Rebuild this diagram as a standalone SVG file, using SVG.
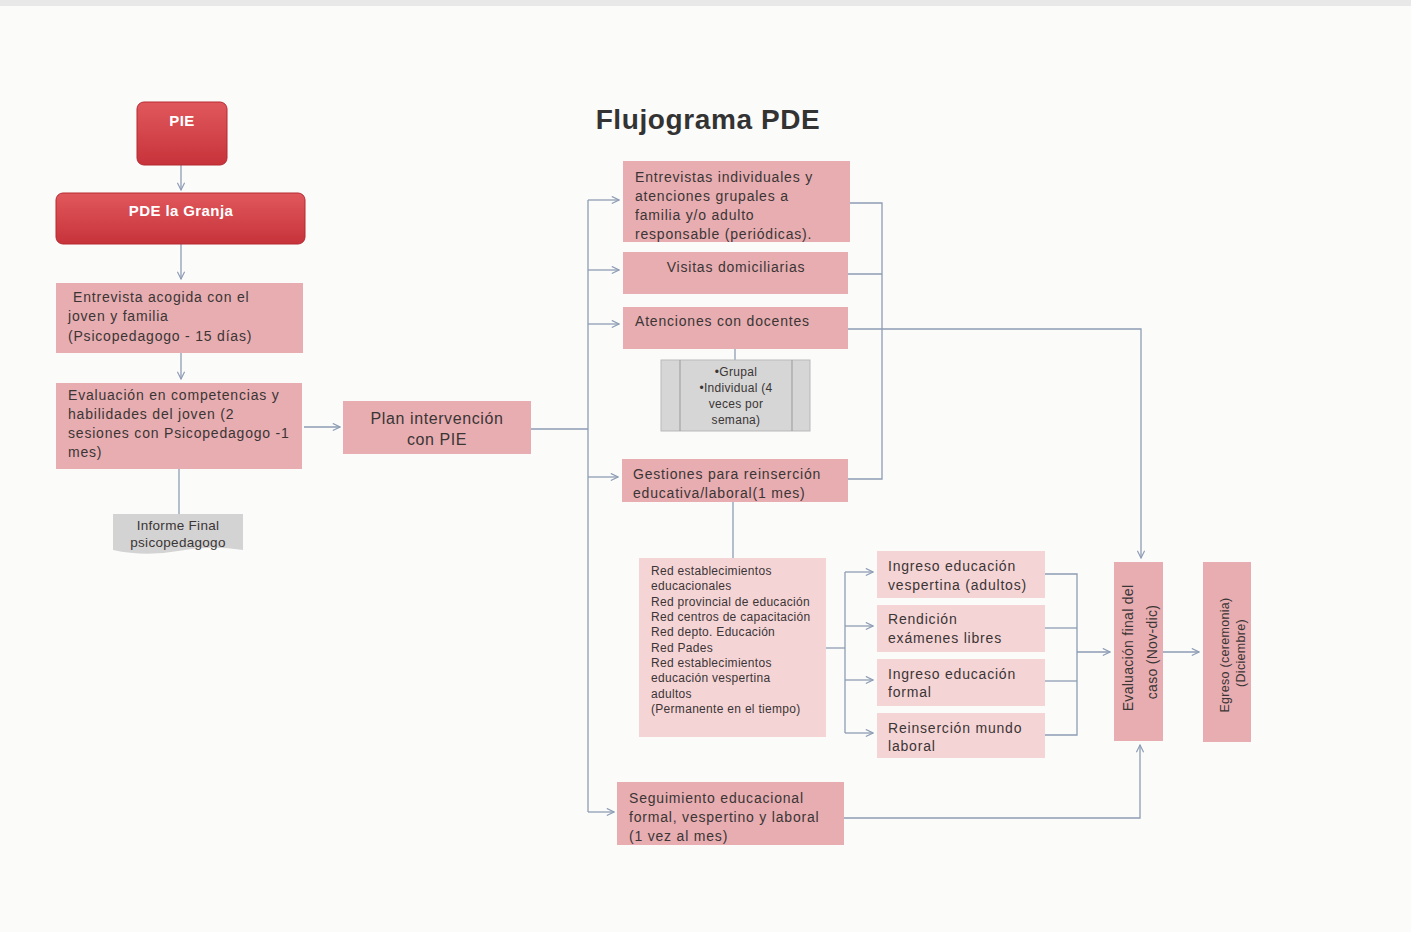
<svg xmlns="http://www.w3.org/2000/svg" width="1411" height="932" viewBox="0 0 1411 932">
<defs>
<style>
text{font-family:"Liberation Sans","Open Sans",sans-serif;fill:#3b3535;font-size:14px;letter-spacing:0.8px}
.w{fill:#fff;font-weight:bold;font-size:15px;letter-spacing:0.4px}
.c{text-anchor:middle}
.s{font-size:12px;letter-spacing:0.3px}
.i{font-size:13.5px;letter-spacing:0.3px}
.v{font-size:12.5px;letter-spacing:0.3px}
.pk{fill:#e7adb1}
.lp{fill:#f5d4d6}
.ln{fill:none;stroke:#8d9cb4;stroke-width:1.3}
</style>
<linearGradient id="rg" x1="0" y1="0" x2="0" y2="1">
<stop offset="0" stop-color="#e0585c"/><stop offset="1" stop-color="#c7333a"/>
</linearGradient>
<marker id="a" viewBox="0 0 10 10" refX="9" refY="5" markerWidth="9" markerHeight="9" orient="auto" markerUnits="userSpaceOnUse">
<path d="M1,1 L9,5 L1,9" fill="none" stroke="#8d9cb4" stroke-width="1.3"/>
</marker>
</defs>
<rect width="1411" height="932" fill="#fbfbfa"/>
<rect x="0" y="0" width="1411" height="6" fill="#e8e8e8"/>
<text x="708" y="129" class="c" style="font-size:28px;font-weight:bold;fill:#333;letter-spacing:0.6px">Flujograma PDE</text>

<g id="connectors">
<path class="ln" d="M181,165 V190" marker-end="url(#a)"/>
<path class="ln" d="M181,244 V279" marker-end="url(#a)"/>
<path class="ln" d="M181,353 V379" marker-end="url(#a)"/>
<path class="ln" d="M179,469 V514"/>
<path class="ln" d="M304,427 H340" marker-end="url(#a)"/>
<path class="ln" d="M531,429 H588"/>
<path class="ln" d="M588,200 V812"/>
<path class="ln" d="M588,200 H619" marker-end="url(#a)"/>
<path class="ln" d="M588,270 H619" marker-end="url(#a)"/>
<path class="ln" d="M588,324 H619" marker-end="url(#a)"/>
<path class="ln" d="M588,477 H618" marker-end="url(#a)"/>
<path class="ln" d="M588,812 H614" marker-end="url(#a)"/>
<path class="ln" d="M850,203 H882 V479 H848"/>
<path class="ln" d="M848,274 H882"/>
<path class="ln" d="M848,329 H1141 V558" marker-end="url(#a)"/>
<path class="ln" d="M735,349 V360"/>
<path class="ln" d="M733,502 V558"/>
<path class="ln" d="M826,648 H845"/>
<path class="ln" d="M845,572 V733"/>
<path class="ln" d="M845,572 H873" marker-end="url(#a)"/>
<path class="ln" d="M845,626 H873" marker-end="url(#a)"/>
<path class="ln" d="M845,680 H873" marker-end="url(#a)"/>
<path class="ln" d="M845,733 H873" marker-end="url(#a)"/>
<path class="ln" d="M1045,574 H1077 V735 H1045"/>
<path class="ln" d="M1045,628 H1077"/>
<path class="ln" d="M1045,681 H1077"/>
<path class="ln" d="M1077,652 H1110" marker-end="url(#a)"/>
<path class="ln" d="M1163,652 H1199" marker-end="url(#a)"/>
<path class="ln" d="M844,818 H1140 V745" marker-end="url(#a)"/>
</g>

<g id="pie">
<rect x="137" y="102" width="90" height="63" rx="7" fill="url(#rg)" stroke="#b52a31" stroke-width="1"/>
<text x="182" y="126" class="w c">PIE</text>
</g>
<g id="pde">
<rect x="56" y="193" width="249" height="51" rx="7" fill="url(#rg)" stroke="#b52a31" stroke-width="1"/>
<text x="181" y="216" class="w c">PDE la Granja</text>
</g>
<g id="entrevista">
<rect x="56" y="283" width="247" height="70" class="pk"/>
<text x="73" y="302">Entrevista  acogida  con el</text>
<text x="68" y="321">joven  y familia</text>
<text x="68" y="341">(Psicopedagogo - 15 días)</text>
</g>
<g id="evaluacion">
<rect x="56" y="383" width="246" height="86" class="pk"/>
<text x="68" y="400">Evaluación en competencias y</text>
<text x="68" y="419">habilidades del joven (2</text>
<text x="68" y="438">sesiones con Psicopedagogo -1</text>
<text x="68" y="457">mes)</text>
</g>
<g id="informe">
<path d="M113,514 H243 V550 Q210,545 178,551 Q145,557 113,550 Z" fill="#d3d3d3"/>
<text x="178" y="530" class="c i">Informe Final</text>
<text x="178" y="547" class="c i">psicopedagogo</text>
</g>
<g id="plan">
<rect x="343" y="401" width="188" height="53" class="pk"/>
<text x="437" y="424" class="c" style="font-size:16px;letter-spacing:0.6px">Plan intervención</text>
<text x="437" y="445" class="c" style="font-size:16px;letter-spacing:0.6px">con PIE</text>
</g>
<g id="entrevistas-ind">
<rect x="623" y="161" width="227" height="81" class="pk"/>
<text x="635" y="182">Entrevistas individuales y</text>
<text x="635" y="201">atenciones grupales a</text>
<text x="635" y="220">familia y/o adulto</text>
<text x="635" y="239">responsable (periódicas).</text>
</g>
<g id="visitas">
<rect x="623" y="252" width="225" height="42" class="pk"/>
<text x="736" y="272" class="c">Visitas domiciliarias</text>
</g>
<g id="atenciones">
<rect x="623" y="307" width="225" height="42" class="pk"/>
<text x="635" y="326">Atenciones con docentes</text>
</g>
<g id="grupal">
<rect x="661" y="360" width="149" height="71" fill="#d6d6d6" stroke="#b9b9b9"/>
<path d="M680,360 V431 M792,360 V431" stroke="#999" stroke-width="1"/>
<text x="736" y="376" class="c s">•Grupal</text>
<text x="736" y="392" class="c s">•Individual (4</text>
<text x="736" y="408" class="c s">veces por</text>
<text x="736" y="424" class="c s">semana)</text>
</g>
<g id="gestiones">
<rect x="622" y="459" width="226" height="43" class="pk"/>
<text x="633" y="479">Gestiones para reinserción</text>
<text x="633" y="498">educativa/laboral(1 mes)</text>
</g>
<g id="redes">
<rect x="639" y="558" width="187" height="179" class="lp"/>
<text x="651" y="575" class="s">Red establecimientos</text>
<text x="651" y="590" class="s">educacionales</text>
<text x="651" y="606" class="s">Red provincial de educación</text>
<text x="651" y="621" class="s">Red centros de capacitación</text>
<text x="651" y="636" class="s">Red depto. Educación</text>
<text x="651" y="652" class="s">Red Pades</text>
<text x="651" y="667" class="s">Red establecimientos</text>
<text x="651" y="682" class="s">educación vespertina</text>
<text x="651" y="698" class="s">adultos</text>
<text x="651" y="713" class="s">(Permanente en el tiempo)</text>
</g>
<g id="ingreso-vesp">
<rect x="877" y="551" width="168" height="47" class="lp"/>
<text x="888" y="571">Ingreso educación</text>
<text x="888" y="590">vespertina (adultos)</text>
</g>
<g id="rendicion">
<rect x="877" y="605" width="168" height="47" class="lp"/>
<text x="888" y="624">Rendición</text>
<text x="888" y="643">exámenes libres</text>
</g>
<g id="ingreso-formal">
<rect x="877" y="659" width="168" height="47" class="lp"/>
<text x="888" y="679">Ingreso educación</text>
<text x="888" y="697">formal</text>
</g>
<g id="reinsercion">
<rect x="877" y="713" width="168" height="45" class="lp"/>
<text x="888" y="733">Reinserción mundo</text>
<text x="888" y="751">laboral</text>
</g>
<g id="eval-final">
<rect x="1114" y="562" width="49" height="179" class="pk"/>
<text transform="translate(1133,648) rotate(-90)" class="c" style="font-size:14px;letter-spacing:0.3px">Evaluación final del</text>
<text transform="translate(1157,652) rotate(-90)" class="c" style="font-size:14px;letter-spacing:0.3px">caso (Nov-dic)</text>
</g>
<g id="egreso">
<rect x="1203" y="562" width="48" height="180" class="pk"/>
<text transform="translate(1229,655) rotate(-90)" class="c v">Egreso (ceremonia)</text>
<text transform="translate(1245,653) rotate(-90)" class="c v">(Diciembre)</text>
</g>
<g id="seguimiento">
<rect x="617" y="782" width="227" height="63" class="pk"/>
<text x="629" y="803">Seguimiento educacional</text>
<text x="629" y="822">formal, vespertino y laboral</text>
<text x="629" y="841">(1 vez al mes)</text>
</g>
</svg>
